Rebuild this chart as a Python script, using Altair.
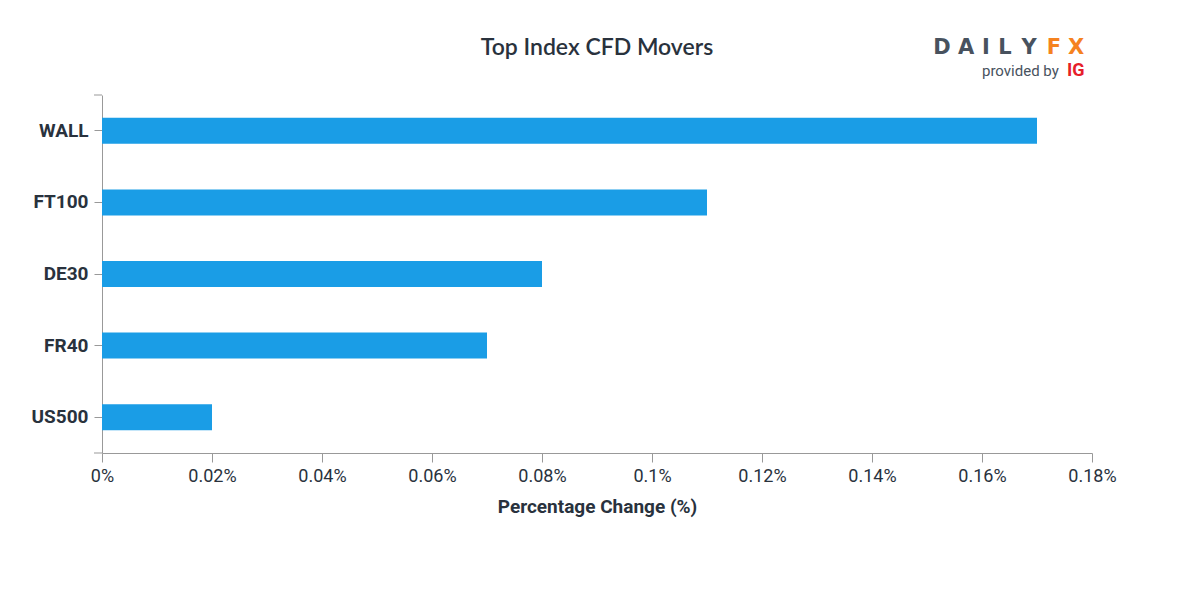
import altair as alt
import pandas as pd

indices = ["WALL", "FT100", "DE30", "FR40", "US500"]
changes = [0.17, 0.11, 0.08, 0.07, 0.02]

df = pd.DataFrame({"index": indices, "change": changes})

W, H = 990, 358
axis_color = "#999999"
text_color = "#29323d"

bars = alt.Chart(df).mark_bar(color="#1a9de6", size=26).encode(
    x=alt.X("change:Q",
            scale=alt.Scale(domain=[0, 0.18], nice=False),
            axis=alt.Axis(
                values=[0, 0.02, 0.04, 0.06, 0.08, 0.1, 0.12, 0.14, 0.16, 0.18],
                labelExpr="format(datum.value, '.2~f') + '%'",
                title="Percentage Change (%)",
                titleFont="Roboto", titleFontSize=19, titleFontWeight="bold",
                titleColor=text_color, titlePadding=12,
                labelFont="Roboto", labelFontSize=18, labelColor=text_color,
                labelPadding=5, grid=False,
                domainColor=axis_color, tickColor=axis_color, tickSize=9,
                labelFlush=False, labelOverlap=False)),
    y=alt.Y("index:N", sort=indices,
            scale=alt.Scale(paddingInner=0, paddingOuter=0),
            axis=alt.Axis(
                title=None,
                labelFont="Roboto", labelFontSize=19, labelFontWeight="bold",
                labelColor=text_color, labelPadding=6,
                domainColor=axis_color, tickColor=axis_color, tickSize=8,
                grid=False)),
)

caps = alt.Chart(pd.DataFrame({"k": [0, 1]})).mark_rule(color=axis_color).encode(
    x=alt.value(-8), x2=alt.value(0),
    y=alt.Y("k:Q", scale=alt.Scale(domain=[0, 1], range=[0, H]), axis=None),
)


def text_at(t, color, x, y, size, weight, font, align="left"):
    return alt.Chart(pd.DataFrame({"t": [t]})).mark_text(
        align=align, baseline="alphabetic", fontSize=size,
        fontWeight=weight, font=font, color=color
    ).encode(text="t:N", x=alt.value(x), y=alt.value(y))


title = text_at("Top Index CFD Movers", text_color, W / 2, -40, 23, 600,
                "Lato", align="center")

logo_letters = ["D", "A", "I", "L", "Y", "F", "X"]
logo_x = [840, 864, 884, 903, 927, 952, 974]
logo_cols = ["#48525e"] * 5 + ["#f5821f"] * 2

logo = None
for ch, lx, lc in zip(logo_letters, logo_x, logo_cols):
    layer = text_at(ch, lc, lx, -41, 21, "bold", "DejaVu Sans", align="center")
    logo = layer if logo is None else logo + layer
logo = (logo
        + text_at("provided by", "#48525e", 880, -19, 15, "normal", "Roboto")
        + text_at("IG", "#e61e2a", 965, -19, 18, "bold", "Roboto"))

chart = (bars + caps + title + logo).properties(
    width=W, height=H,
    autosize=alt.AutoSizeParams(type="none"),
    padding={"left": 94, "top": 87, "right": 100, "bottom": 100},
).configure_view(stroke=None).resolve_scale(y="independent")

chart.save("out.html", embed_options={"renderer": "svg", "actions": False})
